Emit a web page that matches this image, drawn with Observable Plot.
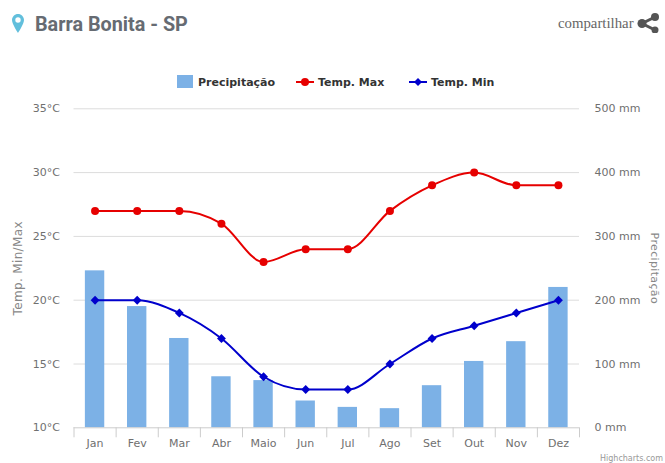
<!DOCTYPE html>
<html lang="pt">
<head>
<meta charset="utf-8">
<script src="https://cdn.jsdelivr.net/npm/d3@7"></script>
<script src="https://cdn.jsdelivr.net/npm/@observablehq/plot@0.6"></script>
<style>
html,body{margin:0;padding:0;background:#fff;}
#page{position:relative;width:665px;height:463px;overflow:hidden;font-family:"DejaVu Sans",sans-serif;}
#page>*{position:absolute;}
#title{left:35px;top:12px;font:700 19.800px/26px Roboto,sans-serif;color:#666b72;white-space:nowrap;}
#pin{left:12px;top:14px;}
#share{left:558px;top:14px;font:14.800px/18px "Liberation Serif",serif;color:#666;white-space:nowrap;}
#shareIcon{left:637px;top:13px;}
.leg{top:76px;font:700 11px/14px "DejaVu Sans",sans-serif;color:#333;white-space:nowrap;}
.sym{top:75px;}
#credit{left:600px;top:453px;font:8px/12px "DejaVu Sans",sans-serif;color:#999;white-space:nowrap;}
#chart{left:0;top:90px;}
#chart text[transform*="rotate"]{letter-spacing:.35px;}
</style>
</head>
<body>
<div id="page">
  <svg id="pin" width="12" height="19" viewBox="0 0 12 19"><path d="M6 0C2.7 0 0 2.7 0 6c0 4 6 13 6 13s6-9 6-13c0-3.300-2.700-6-6-6zm0 8.700A2.700 2.700 0 1 1 6 3.300a2.700 2.700 0 0 1 0 5.400z" fill="#62bfdc"/></svg>
  <div id="title">Barra Bonita - SP</div>
  <div id="share">compartilhar</div>
  <svg id="shareIcon" width="23" height="20" viewBox="0 0 23 20"><g fill="#555"><circle cx="18" cy="4" r="4"/><circle cx="5" cy="10.500" r="4.500"/><circle cx="18" cy="17" r="3.500"/></g><path d="M18 4L5 10.500L18 17" stroke="#555" stroke-width="3" fill="none"/></svg>
  <svg class="sym" style="left:177px" width="16" height="13"><rect width="16" height="13" fill="#7cb1e6"/></svg>
  <div class="leg" style="left:198px">Precipitação</div>
  <svg class="sym" style="left:296px" width="18" height="14"><path d="M0 7H18" stroke="#e60000" stroke-width="2"/><circle cx="9" cy="7" r="4" fill="#e60000"/></svg>
  <div class="leg" style="left:318px">Temp. Max</div>
  <svg class="sym" style="left:409px" width="18" height="14"><path d="M0 7H18" stroke="#0000cc" stroke-width="2"/><path d="M9 3L13 7L9 11L5 7Z" fill="#0000cc"/></svg>
  <div class="leg" style="left:431px">Temp. Min</div>
  <div id="chart"></div>
  <div id="credit">Highcharts.com</div>
</div>
<script>
const months = ["Jan","Fev","Mar","Abr","Maio","Jun","Jul","Ago","Set","Out","Nov","Dez"];
const precipitation = [246,190,140,80,74,42,32,30,66,104,135,220];
const tempMax = [27,27,27,26,23,24,24,27,29,30,29,29];
const tempMin = [20,20,19,17,14,13,13,15,17,18,19,20];
const tempTicks = [10,15,20,25,30,35];
const mmTicks = [0,100,200,300,400,500];

// Temperature lives on the y scale; millimetres map onto it (0–500 mm ↔ 10–35 °C).
const mmToTemp = d3.scaleLinear([0,500],[10,35]);
const W = 665, ML = 73.5, MR = 86;
const halfStep = (W - ML - MR) / months.length / 2;
const rows = months.map((m,i)=>({m, p:precipitation[i], hi:tempMax[i], lo:tempMin[i]}));
const GREY = "#707070";

const plot = Plot.plot({
  width: W, height: 373,
  marginTop: 18.3, marginBottom: 35.7, marginLeft: ML, marginRight: MR,
  style: {background:"transparent", fontFamily:'"DejaVu Sans",sans-serif', fontSize:"11px"},
  x: {type:"band", domain: months, paddingInner: 0.54, paddingOuter: 0.27, align: 0.5, round:false, label:null},
  y: {domain:[10,35], label:null},
  marks: [
    Plot.ruleY(tempTicks.slice(1), {stroke:"#dcdcdc", strokeWidth:1}),
    Plot.barY(rows, {x:"m", y1:()=>10, y2:d=>mmToTemp(d.p), fill:"#7cb1e6"}),
    Plot.ruleY([10], {stroke:"#ccc", strokeWidth:1}),
    Plot.axisX(months, {tickSize:10, stroke:"#ccc", text:null, label:null, dx:-halfStep}),
    Plot.axisX(months.slice(-1), {tickSize:10, stroke:"#ccc", text:null, label:null, dx:halfStep}),
    Plot.axisX(months, {tickSize:0, tickPadding:11, label:null, fill:GREY, anchor:"bottom"}),
    Plot.axisY(tempTicks, {anchor:"left", tickSize:0, tickPadding:14, fill:GREY,
      tickFormat:d=>`${d}°C`, label:null}),
    Plot.axisY(mmTicks.map(mmToTemp), {anchor:"right", tickSize:0, tickPadding:15, fill:GREY,
      tickFormat:d=>`${mmToTemp.invert(d)} mm`, label:null}),
    Plot.lineY(rows, {x:"m", y:"hi", stroke:"#e60000", strokeWidth:2, curve:"monotone-x"}),
    Plot.dot(rows, {x:"m", y:"hi", r:4, fill:"#e60000", stroke:"none"}),
    Plot.lineY(rows, {x:"m", y:"lo", stroke:"#0000cc", strokeWidth:2, curve:"monotone-x"}),
    Plot.dot(rows, {x:"m", y:"lo", symbol:"diamond2", r:4, fill:"#0000cc", stroke:"none"}),
    Plot.text(["Temp. Min/Max"], {frameAnchor:"left", dx:-55.5, rotate:-90, textAnchor:"middle", fill:"#888", fontSize:12}),
    Plot.text(["Precipitação"], {frameAnchor:"right", dx:75, rotate:90, textAnchor:"middle", fill:"#888", fontSize:11})
  ]
});
plot.style.overflow = "visible";
document.getElementById("chart").append(plot);
</script>
</body>
</html>
